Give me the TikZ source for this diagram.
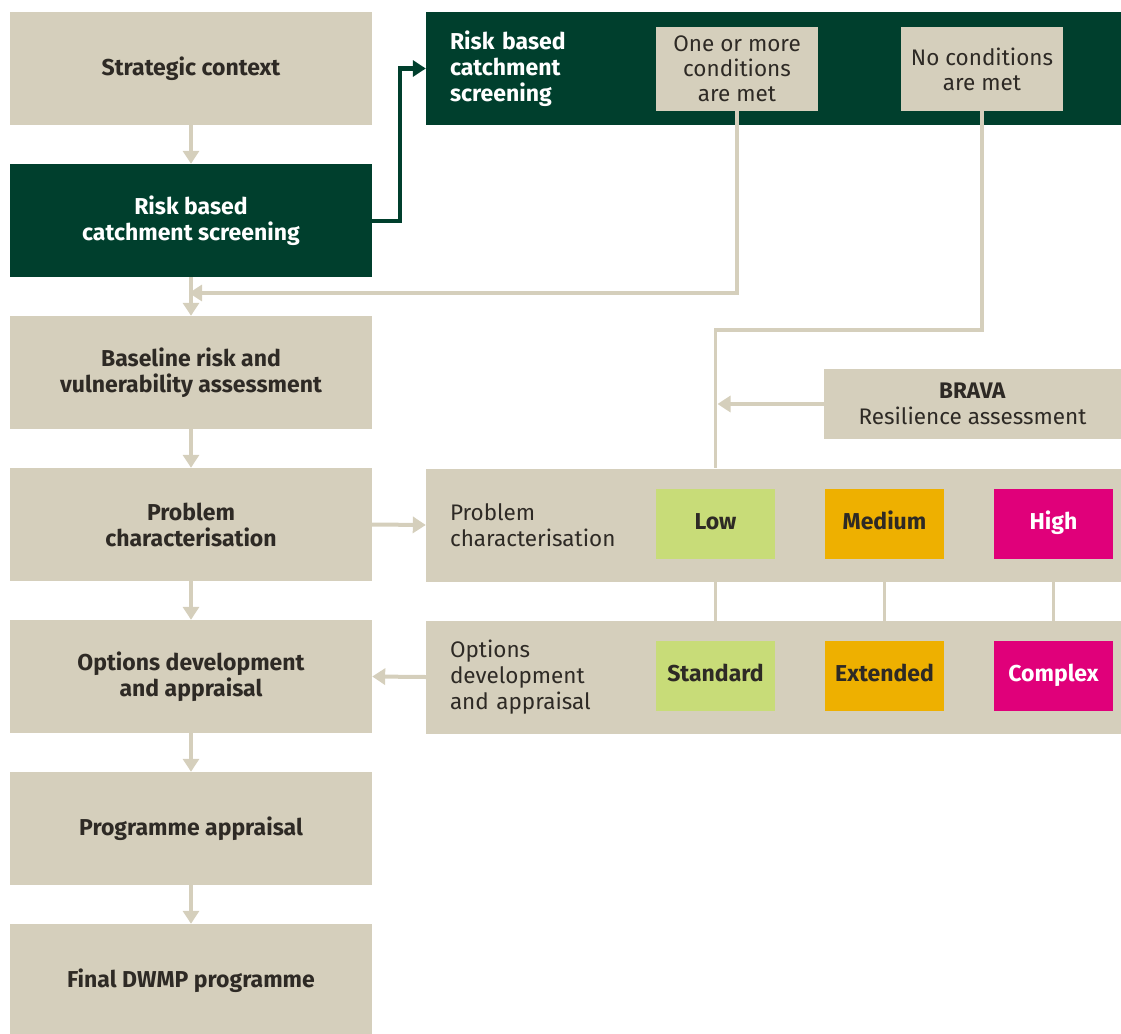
\documentclass[tikz,border=0pt]{standalone}
\usepackage{fontspec}
\setmainfont{Fira Sans}
\usetikzlibrary{positioning,arrows.meta}

\definecolor{beige}{HTML}{D5CFBC}
\definecolor{darkgreen}{HTML}{003F2D}
\definecolor{lowgreen}{HTML}{C8DC78}
\definecolor{midamber}{HTML}{EEB000}
\definecolor{highpink}{HTML}{E0007A}
\definecolor{inkgrey}{HTML}{2E2A25}

\tikzset{
  stepbox/.style={rectangle, fill=beige, text=inkgrey, minimum width=362pt,
    minimum height=113pt, align=center, inner sep=0pt,
    font=\fontsize{23}{26}\selectfont\bfseries},
  darkstep/.style={stepbox, fill=darkgreen, text=white},
  widebox/.style={rectangle, fill=beige, text=inkgrey, minimum width=695pt,
    minimum height=113pt, text width=647pt, inner xsep=24pt, align=left,
    font=\fontsize{22.5}{26}\selectfont},
  condbox/.style={rectangle, fill=beige, text=inkgrey, minimum width=162pt,
    minimum height=84pt, align=center, inner sep=0pt,
    font=\fontsize{22.5}{25}\selectfont},
  tierbox/.style={rectangle, fill=#1, minimum width=119pt, minimum height=70pt,
    inner sep=0pt, text height=16pt, text depth=5pt,
    font=\fontsize{23}{26}\selectfont\bfseries},
  tip/.style={-{Triangle[width=16pt,length=13pt]}},
  flow/.style={draw=beige, line width=4pt, tip},
  link/.style={draw=beige, line width=3.5pt},
}

\begin{document}
\begin{tikzpicture}[x=1pt,y=-1pt,node distance=152pt,on grid]
  \useasboundingbox (0,0) rectangle (1121,1033);

  % main column
  \node[stepbox]  (strat) at (191,68.5)  {Strategic context};
  \node[darkstep] (risk)  [below=of strat] {Risk based\\catchment screening};
  \node[stepbox]  (base)  [below=of risk]  {Baseline risk and\\vulnerability assessment};
  \node[stepbox]  (prob)  [below=of base]  {Problem\\characterisation};
  \node[stepbox]  (opts)  [below=of prob]  {Options development\\and appraisal};
  \node[stepbox]  (prog)  [below=of opts]  {Programme appraisal};
  \node[stepbox]  (final) [below=of prog]  {Final DWMP programme};

  % right hand side
  \node[widebox, fill=darkgreen, text=white, font=\fontsize{23}{26}\selectfont\bfseries]
    (screen) at (773.5,68.5) {Risk based\\catchment\\screening};
  \node[condbox] (onemore) at (737,69)  {One or more\\conditions\\are met};
  \node[condbox] (nocond)  at (982,69)  {No conditions\\are met};

  \node[rectangle, fill=beige, text=inkgrey, minimum width=297pt, minimum height=70pt,
    align=center, font=\fontsize{22.5}{26}\selectfont]
    (brava) at (972.5,404) {\textbf{BRAVA}\\Resilience assessment};

  \node[widebox] (pcwide)  at (773.5,525) {Problem\\characterisation};
  \node[widebox] (optwide) at (773.5,677) {Options\\development\\and appraisal};

  \node[tierbox=lowgreen, text=inkgrey]  (low)  at (715.5,524)  {Low};
  \node[tierbox=midamber, text=inkgrey]  (med)  at (884.5,524)  {Medium};
  \node[tierbox=highpink, text=white]    (high) at (1053.5,524) {High};
  \node[tierbox=lowgreen, text=inkgrey]  (std)  at (715.5,676)  {Standard};
  \node[tierbox=midamber, text=inkgrey]  (ext)  at (884.5,676)  {Extended};
  \node[tierbox=highpink, text=white]    (cplx) at (1053.5,676) {Complex};

  \coordinate (joinA) at (189,293);

  % arrows down the main column
  \draw[flow] (strat) -- (risk);
  \draw[flow] (risk)  -- (base);
  \draw[flow] (base)  -- (prob);
  \draw[flow] (prob)  -- (opts);
  \draw[flow] (opts)  -- (prog);
  \draw[flow] (prog)  -- (final);

  \draw[draw=darkgreen, line width=4pt, tip]
    (risk.east) -- ++(28,0) |- (screen.west);

  \draw[link, tip] (onemore.south) |- (joinA);
  \draw[link] (nocond.south) -- ++(0,219) -| (low.north |- pcwide.north);
  \draw[link, tip, shorten >=2pt] (brava.west) -- (low.north |- brava.west);

  \draw[flow] (prob.east) -- (pcwide.west);
  \draw[flow] (optwide.west) -- (opts.east);

  \draw[link] (low)  -- (std);
  \draw[link] (med)  -- (ext);
  \draw[link] (high) -- (cplx);
\end{tikzpicture}
\end{document}
